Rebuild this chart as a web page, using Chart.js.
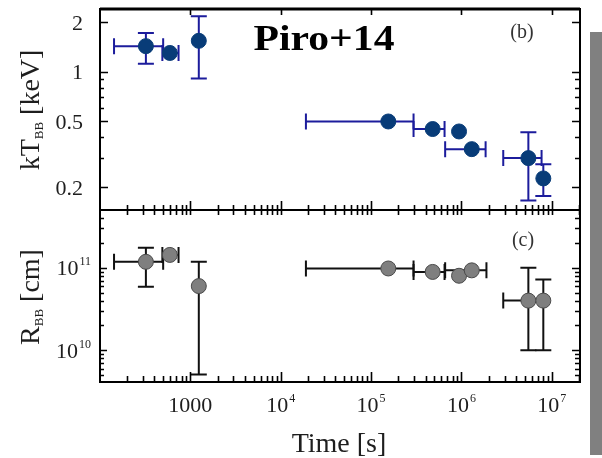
<!DOCTYPE html>
<html>
<head>
<meta charset="utf-8">
<script src="https://cdn.jsdelivr.net/npm/chart.js"></script>
<style>
html, body { margin: 0; padding: 0; background: #fff; }
#wrap { position: relative; width: 602px; height: 458px; }
#sideBar { position: absolute; left: 590px; top: 32px; width: 12px; height: 423px; background: #808080; }
</style>
</head>
<body>
<div id="wrap">
    <canvas id="chart" width="602" height="458"></canvas>
    <div id="sideBar"></div>
</div>
<script>
// --- values ---
const timeMid = [322, 593, 1240, 1.55e5, 4.8e5, 9.4e5, 1.3e6, 5.5e6, 8.05e6];

// panel (b): blackbody temperature kT_BB [keV]
const ktValue = [1.43, 1.30, 1.54, 0.50, 0.45, 0.435, 0.34, 0.30, 0.226];
const ktLow = [1.12, null, 0.91, null, null, null, null, 0.166, 0.177];
const ktHigh = [1.72, null, 2.17, null, null, null, null, 0.43, 0.275];
const ktTimeLow = [143, 490, null, 1.9e4, 2.95e5, null, 6.6e5, 2.9e6, null];
const ktTimeHigh = [500, 740, null, 2.95e5, 6.5e5, null, 1.85e6, 7.7e6, null];

// panel (c): blackbody radius R_BB [cm]
const rValue = [1.18e11, 1.43e11, 6.0e10, 9.8e10, 8.9e10, 8.0e10, 9.3e10, 4.0e10, 4.0e10];
const rLow = [5.9e10, null, 5.1e9, null, null, null, null, 1.0e10, 1.0e10];
const rHigh = [1.74e11, null, 1.18e11, null, null, null, null, 1.0e11, 7.2e10];
const rTimeLow = [143, 490, null, 1.9e4, 2.95e5, null, 6.6e5, 2.9e6, null];
const rTimeHigh = [500, 740, null, 2.95e5, 6.5e5, null, 1.89e6, null, null];

// ticks and labels
const timeTicks = [1e3, 1e4, 1e5, 1e6, 1e7];
const timeTickLabels = ['1000', '10^4', '10^5', '10^6', '10^7'];
const ktTicks = [2, 1, 0.5, 0.2];
const ktTickLabels = ['2', '1', '0.5', '0.2'];
const ktMinorTicks = [0.3, 0.4, 0.6, 0.7, 0.8, 0.9];
const rTicks = [1e11, 1e10];
const rTickLabels = ['10^11', '10^10'];

const ktFill = '#083c78';
const ktBarColor = '#1c1c9c';
const rFill = '#7f7f7f';
const rEdge = '#4a4a4a';
const rBarColor = '#111111';
const textColor = '#1e1e1e';
const serif = '"Liberation Serif", "Times New Roman", serif';

function drawErrorBars(chart, yScaleId, vals, lo, hi, tLo, tHi, color) {
    const ctx = chart.ctx;
    const xs = chart.scales.x;
    const ys = chart.scales[yScaleId];
    const cap = 8;
    ctx.save();
    ctx.strokeStyle = color;
    ctx.lineWidth = 2;
    timeMid.forEach((t, i) => {
        const px = xs.getPixelForValue(t);
        const py = ys.getPixelForValue(vals[i]);
        ctx.beginPath();
        if (lo[i] != null) {
            const y0 = ys.getPixelForValue(lo[i]);
            ctx.moveTo(px, py); ctx.lineTo(px, y0);
            ctx.moveTo(px - cap, y0); ctx.lineTo(px + cap, y0);
        }
        if (hi[i] != null) {
            const y1 = ys.getPixelForValue(hi[i]);
            ctx.moveTo(px, py); ctx.lineTo(px, y1);
            ctx.moveTo(px - cap, y1); ctx.lineTo(px + cap, y1);
        }
        if (tLo[i] != null) {
            const x0 = xs.getPixelForValue(tLo[i]);
            ctx.moveTo(px, py); ctx.lineTo(x0, py);
            ctx.moveTo(x0, py - cap); ctx.lineTo(x0, py + cap);
        }
        if (tHi[i] != null) {
            const x1 = xs.getPixelForValue(tHi[i]);
            ctx.moveTo(px, py); ctx.lineTo(x1, py);
            ctx.moveTo(x1, py - cap); ctx.lineTo(x1, py + cap);
        }
        ctx.stroke();
    });
    ctx.restore();
}

const errorBarPlugin = {
    id: 'errorBars',
    beforeDatasetsDraw(chart) {
        drawErrorBars(chart, 'yKt', ktValue, ktLow, ktHigh, ktTimeLow, ktTimeHigh, ktBarColor);
        drawErrorBars(chart, 'yR', rValue, rLow, rHigh, rTimeLow, rTimeHigh, rBarColor);
    }
};

// minor ticks for a log range: 2..9 x each decade
function logMinors(min, max) {
    const out = [];
    for (let e = Math.floor(Math.log10(min)); e <= Math.ceil(Math.log10(max)); e++) {
        for (let m = 2; m <= 9; m++) {
            const v = m * Math.pow(10, e);
            if (v > min && v < max) out.push(v);
        }
    }
    return out;
}

// "10^4" style label with a raised exponent
function drawPowLabel(ctx, label, x, y, align, size) {
    const parts = label.split('^');
    const baseFont = size + 'px ' + serif;
    const expFont = Math.round(size * 0.55) + 'px ' + serif;
    ctx.font = baseFont;
    const wb = ctx.measureText(parts[0]).width;
    let we = 0;
    if (parts[1]) { ctx.font = expFont; we = ctx.measureText(parts[1]).width + 1; }
    const total = wb + we;
    let x0 = x;
    if (align === 'center') x0 = x - total / 2;
    if (align === 'right') x0 = x - total;
    ctx.textAlign = 'left';
    ctx.textBaseline = 'alphabetic';
    ctx.font = baseFont;
    ctx.fillText(parts[0], x0, y);
    if (parts[1]) {
        ctx.font = expFont;
        ctx.fillText(parts[1], x0 + wb + 1, y - size * 0.45);
    }
}

// rotated axis title made of runs (normal / subscript)
function drawRunsRotated(ctx, runs, cx, cy) {
    ctx.save();
    ctx.translate(cx, cy);
    ctx.rotate(-Math.PI / 2);
    ctx.textAlign = 'left';
    ctx.textBaseline = 'alphabetic';
    let total = 0;
    runs.forEach(r => { ctx.font = r.size + 'px ' + serif; r.w = ctx.measureText(r.text).width; total += r.w; });
    let x = -total / 2;
    runs.forEach(r => {
        ctx.font = r.size + 'px ' + serif;
        ctx.fillText(r.text, x, r.dy || 0);
        x += r.w;
    });
    ctx.restore();
}

const framePlugin = {
    id: 'frame',
    afterDraw(chart) {
        const ctx = chart.ctx;
        const xs = chart.scales.x;
        const yk = chart.scales.yKt;
        const yr = chart.scales.yR;
        const left = chart.chartArea.left, right = chart.chartArea.right;
        const top = yk.top, mid = yk.bottom, bottom = yr.bottom;
        ctx.save();
        ctx.strokeStyle = '#000';
        ctx.lineWidth = 1.6;
        ctx.beginPath();
        const xMinor = logMinors(xs.min, xs.max);
        // ticks along x
        timeTicks.forEach(t => {
            const px = Math.round(xs.getPixelForValue(t)) + 0.5;
            ctx.moveTo(px, top); ctx.lineTo(px, top + 6);
            ctx.moveTo(px, mid - 9); ctx.lineTo(px, mid + 5);
            ctx.moveTo(px, bottom); ctx.lineTo(px, bottom - 10);
        });
        xMinor.forEach(t => {
            const px = Math.round(xs.getPixelForValue(t)) + 0.5;
            ctx.moveTo(px, mid - 5); ctx.lineTo(px, mid + 5);
            ctx.moveTo(px, bottom); ctx.lineTo(px, bottom - 6);
        });
        // ticks along y, top panel
        ktTicks.forEach(v => {
            const py = Math.round(yk.getPixelForValue(v)) + 0.5;
            ctx.moveTo(left, py); ctx.lineTo(left + 8, py);
            ctx.moveTo(right, py); ctx.lineTo(right - 8, py);
        });
        ktMinorTicks.forEach(v => {
            const py = Math.round(yk.getPixelForValue(v)) + 0.5;
            ctx.moveTo(left, py); ctx.lineTo(left + 4, py);
            ctx.moveTo(right, py); ctx.lineTo(right - 5, py);
        });
        // ticks along y, bottom panel
        rTicks.forEach(v => {
            const py = Math.round(yr.getPixelForValue(v)) + 0.5;
            ctx.moveTo(left, py); ctx.lineTo(left + 7, py);
            ctx.moveTo(right, py); ctx.lineTo(right - 8, py);
        });
        logMinors(yr.min, yr.max).forEach(v => {
            const py = Math.round(yr.getPixelForValue(v)) + 0.5;
            ctx.moveTo(left, py); ctx.lineTo(left + 4, py);
            ctx.moveTo(right, py); ctx.lineTo(right - 5, py);
        });
        ctx.stroke();

        // panel frames
        ctx.lineWidth = 2;
        ctx.strokeRect(left, top, right - left, bottom - top);
        ctx.beginPath();
        ctx.moveTo(left, mid); ctx.lineTo(right, mid);
        ctx.stroke();
        ctx.lineWidth = 3;
        ctx.beginPath();
        ctx.moveTo(left, top); ctx.lineTo(right, top);
        ctx.stroke();

        // tick labels
        ctx.fillStyle = textColor;
        timeTicks.forEach((t, i) => {
            drawPowLabel(ctx, timeTickLabels[i], xs.getPixelForValue(t), 412, 'center', 22);
        });
        ktTicks.forEach((v, i) => {
            drawPowLabel(ctx, ktTickLabels[i], 83, yk.getPixelForValue(v) + 7.5, 'right', 22);
        });
        rTicks.forEach((v, i) => {
            drawPowLabel(ctx, rTickLabels[i], 91, yr.getPixelForValue(v) + 7.5, 'right', 22);
        });

        // axis titles
        ctx.font = '28px ' + serif;
        ctx.textAlign = 'center';
        ctx.fillText('Time [s]', 339, 452);
        drawRunsRotated(ctx, [
            { text: 'kT', size: 28 },
            { text: 'BB', size: 13, dy: 4 },
            { text: ' [keV]', size: 28 }
        ], 39, 110);
        drawRunsRotated(ctx, [
            { text: 'R', size: 28 },
            { text: 'BB', size: 13, dy: 4 },
            { text: ' [cm]', size: 28 }
        ], 39, 297);

        // panel tags
        ctx.fillStyle = '#333';
        ctx.font = '20px ' + serif;
        ctx.textAlign = 'center';
        ctx.fillText('(b)', 522, 38);
        ctx.fillText('(c)', 523, 246);

        // title, slightly widened like the original
        ctx.fillStyle = '#000';
        ctx.font = 'bold 35px ' + serif;
        ctx.translate(324, 50);
        ctx.scale(1.19, 1);
        ctx.fillText('Piro+14', 0, 0);
        ctx.restore();
    }
};

const hiddenAxis = {
    ticks: { display: false },
    grid: { display: false, drawTicks: false },
    border: { display: false }
};

new Chart(document.getElementById('chart'), {
    type: 'scatter',
    data: {
        datasets: [{
            label: 'kT_BB',
            data: timeMid.map((t, i) => ({ x: t, y: ktValue[i] })),
            yAxisID: 'yKt',
            backgroundColor: ktFill,
            borderColor: ktFill,
            borderWidth: 1,
            pointRadius: 7.5,
            pointHoverRadius: 7.5
        }, {
            label: 'R_BB',
            data: timeMid.map((t, i) => ({ x: t, y: rValue[i] })),
            yAxisID: 'yR',
            backgroundColor: rFill,
            borderColor: rEdge,
            borderWidth: 1,
            pointRadius: 7.5,
            pointHoverRadius: 7.5
        }]
    },
    options: {
        responsive: false,
        animation: false,
        events: [],
        layout: { padding: { left: 100, right: 22, top: 9, bottom: 76 } },
        plugins: { legend: { display: false }, tooltip: { enabled: false } },
        scales: {
            x: { type: 'logarithmic', min: 100, max: 2.05e7, ...hiddenAxis },
            // left boxes are laid out in reverse weight order: higher weight goes on top
            yKt: { type: 'logarithmic', position: 'left', stack: 'panels', stackWeight: 201, weight: 1, min: 0.1455, max: 2.4, ...hiddenAxis },
            yR: { type: 'logarithmic', position: 'left', stack: 'panels', stackWeight: 172, weight: 0, min: 4.14e9, max: 5.0e11, ...hiddenAxis }
        }
    },
    plugins: [errorBarPlugin, framePlugin]
});
</script>
</body>
</html>
